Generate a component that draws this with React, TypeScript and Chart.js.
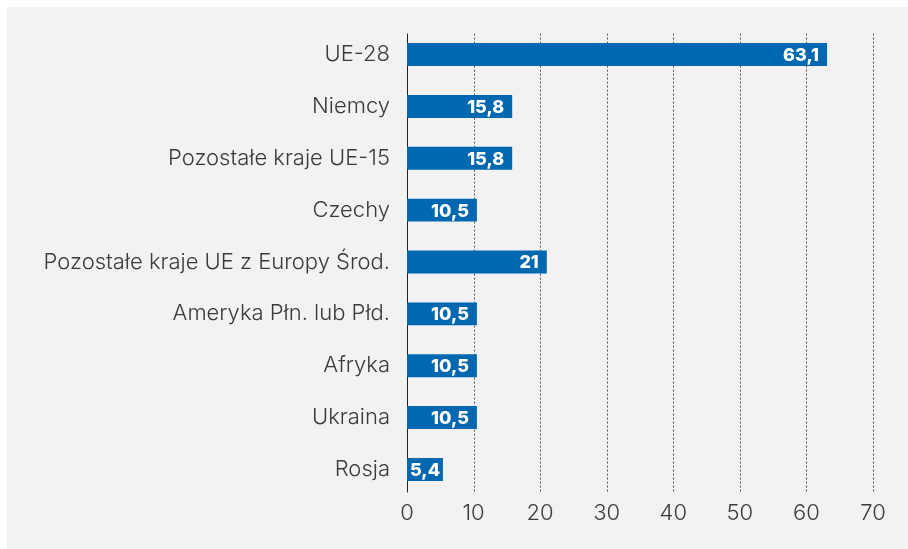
import React, { useEffect, useRef } from "react";
import { Chart, registerables } from "chart.js";

Chart.register(...registerables);

const categories = [
  "UE-28",
  "Niemcy",
  "Pozostałe kraje UE-15",
  "Czechy",
  "Pozostałe kraje UE z Europy Środ.",
  "Ameryka Płn. lub Płd.",
  "Afryka",
  "Ukraina",
  "Rosja",
];
const values = [63.1, 15.8, 15.8, 10.5, 21, 10.5, 10.5, 10.5, 5.4];
const valueLabels = ["63,1", "15,8", "15,8", "10,5", "21", "10,5", "10,5", "10,5", "5,4"];
const xTicks = [0, 10, 20, 30, 40, 50, 60, 70];

const FONT = "Inter, 'Open Sans', sans-serif";
const BAR_COLOR = "#0067b1";

const gridPlugin = {
  id: "customGrid",
  beforeDatasetsDraw(chart: any) {
    const { ctx, chartArea, scales } = chart;
    const x = scales.x;
    const top = chartArea.top + 5;
    const bottom = chartArea.bottom - 3;
    ctx.save();
    xTicks.forEach((v) => {
      const px = Math.round(x.getPixelForValue(v)) + 0.5;
      ctx.beginPath();
      if (v === 0) {
        ctx.setLineDash([]);
        ctx.strokeStyle = "#222";
      } else {
        ctx.setLineDash([2, 2]);
        ctx.strokeStyle = "#555";
      }
      ctx.lineWidth = 1;
      ctx.moveTo(px, top);
      ctx.lineTo(px, bottom);
      ctx.stroke();
    });
    ctx.restore();
  },
};

const labelPlugin = {
  id: "barLabels",
  afterDatasetsDraw(chart: any) {
    const { ctx } = chart;
    const meta = chart.getDatasetMeta(0);
    ctx.save();
    ctx.font = `800 18px ${FONT}`;
    ctx.fillStyle = "#ffffff";
    ctx.textAlign = "right";
    ctx.textBaseline = "middle";
    meta.data.forEach((bar: any, i: number) => {
      const text = valueLabels[i];
      const w = ctx.measureText(text).width;
      const tx = Math.max(bar.x - 8, bar.base + 3 + w);
      ctx.fillText(text, tx, bar.y + 1);
    });
    ctx.restore();
  },
};

export default function App() {
  const ref = useRef<HTMLCanvasElement | null>(null);
  useEffect(() => {
    if (!ref.current) return;
    const chart = new Chart(ref.current, {
      type: "bar",
      data: {
        labels: categories,
        datasets: [
          {
            data: values,
            backgroundColor: BAR_COLOR,
            borderWidth: 0,
            barPercentage: 0.443,
            categoryPercentage: 1,
          },
        ],
      },
      options: {
        indexAxis: "y",
        animation: false,
        responsive: false,
        maintainAspectRatio: false,
        layout: { padding: { left: 0, top: 21.6, right: 35, bottom: 0 } },
        plugins: {
          legend: { display: false },
          tooltip: { enabled: false },
        },
        scales: {
          x: {
            min: 0,
            max: 70,
            afterFit: (s: any) => {
              s.height = 53.6;
              s.paddingLeft = 0;
              s.paddingRight = 0;
            },
            grid: { display: false, drawTicks: false },
            border: { display: false },
            ticks: {
              stepSize: 10,
              padding: 5,
              color: "#3a3a3a",
              font: { family: FONT, size: 22, weight: "300" },
            },
          },
          y: {
            afterFit: (s: any) => {
              s.width = 400;
              s.paddingTop = 0;
              s.paddingBottom = 0;
            },
            grid: { display: false, drawTicks: false },
            border: { display: false },
            ticks: {
              padding: 17,
              color: "#3a3a3a",
              font: { family: FONT, size: 22, weight: "300" },
            },
          },
        },
      },
      plugins: [gridPlugin, labelPlugin],
    });
    return () => chart.destroy();
  }, []);
  return (
    <div
      style={{
        position: "fixed",
        left: 7,
        top: 7,
        width: 901,
        height: 542,
        background: "#f2f2f2",
      }}
    >
      <canvas ref={ref} width={901} height={542} style={{ display: "block" }} />
    </div>
  );
}
